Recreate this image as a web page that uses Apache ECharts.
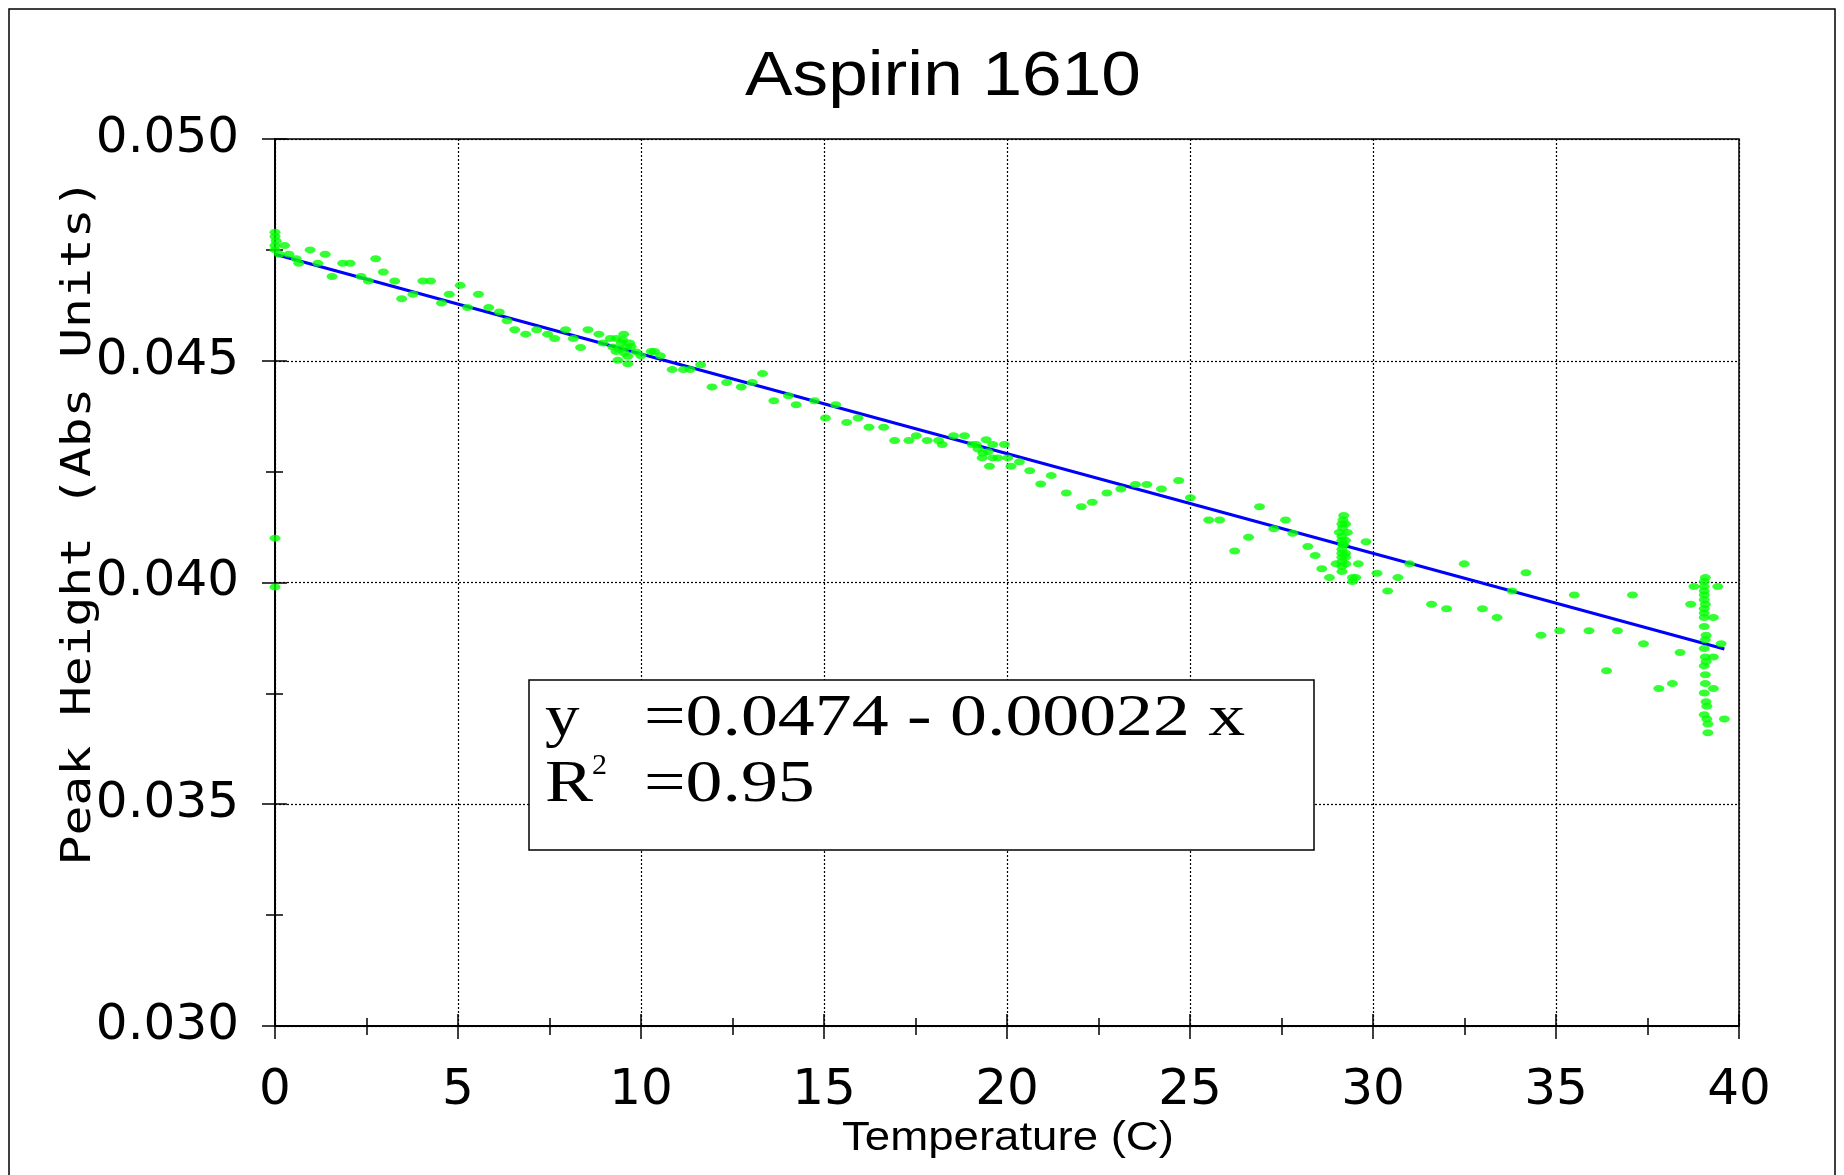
<!DOCTYPE html>
<html>
<head>
<meta charset="utf-8">
<title>Aspirin 1610</title>
<script src="https://cdn.jsdelivr.net/npm/echarts@6.0.0/dist/echarts.min.js"></script>
<style>
    html, body { margin: 0; padding: 0; background: #fff; }
    #container { width: 1844px; height: 1175px; }
</style>
</head>
<body>
<div id="container"></div>
<script>

// temperature (C), peak height (abs units)
var aspirinPoints = [
    [0.00, 0.0479], [0.00, 0.0478], [0.03, 0.0477], [0.00, 0.0476], [0.26, 0.0476],
    [0.00, 0.0475], [0.12, 0.0474], [0.38, 0.0474], [0.00, 0.0410], [0.00, 0.0399],
    [0.58, 0.0473], [0.65, 0.0472], [0.96, 0.0475], [1.17, 0.0472], [1.37, 0.0474],
    [1.56, 0.0469], [1.85, 0.0472], [2.05, 0.0472], [2.35, 0.0469], [2.55, 0.0468],
    [2.75, 0.0473], [2.96, 0.0470], [3.27, 0.0468], [3.46, 0.0464], [3.77, 0.0465],
    [4.04, 0.0468], [4.25, 0.0468], [4.55, 0.0463], [4.76, 0.0465], [5.06, 0.0467],
    [5.26, 0.0462], [5.56, 0.0465], [5.84, 0.0462], [6.13, 0.0461], [6.34, 0.0459],
    [6.55, 0.0457], [6.85, 0.0456], [7.15, 0.0457], [7.45, 0.0456], [7.64, 0.0455],
    [7.94, 0.0457], [8.15, 0.0455], [8.35, 0.0453], [8.55, 0.0457], [8.85, 0.0456],
    [8.96, 0.0454], [9.16, 0.0455], [9.32, 0.0455], [9.53, 0.0456], [9.50, 0.04547],
    [9.46, 0.0454], [9.69, 0.0454], [9.23, 0.04531], [9.41, 0.04526], [9.60, 0.04531],
    [9.73, 0.04532], [9.32, 0.04521], [9.55, 0.04517], [9.87, 0.0452], [9.37, 0.04501],
    [9.64, 0.0451], [9.64, 0.04493], [10.00, 0.04511], [10.28, 0.04521], [10.37, 0.04521],
    [10.53, 0.04511], [10.85, 0.0448], [11.16, 0.0448], [11.34, 0.0448], [11.63, 0.04491],
    [11.94, 0.04441], [12.34, 0.04451], [12.74, 0.04441], [13.04, 0.04451], [13.32, 0.04471],
    [13.63, 0.0441], [14.03, 0.04421], [14.24, 0.04401], [14.74, 0.0441], [15.04, 0.04371],
    [15.32, 0.04401], [15.62, 0.04361], [15.93, 0.04371], [16.23, 0.0435], [16.63, 0.0435],
    [16.93, 0.0432], [17.32, 0.0432], [17.52, 0.04331], [17.82, 0.0432], [18.13, 0.0432],
    [18.23, 0.04311], [18.54, 0.04331], [18.84, 0.04331], [19.05, 0.04311], [19.16, 0.04311],
    [19.43, 0.04322], [19.61, 0.04311], [19.93, 0.04311], [19.21, 0.04301], [19.34, 0.04292],
    [19.48, 0.04295], [19.32, 0.04281], [19.61, 0.04281], [19.75, 0.04281], [20.02, 0.04281],
    [19.52, 0.04262], [20.11, 0.04262], [20.34, 0.04272], [20.62, 0.04252], [20.92, 0.04222],
    [21.21, 0.04241], [21.62, 0.04202], [22.03, 0.04171], [22.33, 0.04181], [22.73, 0.04202],
    [23.11, 0.04211], [23.51, 0.04221], [23.82, 0.04221], [24.22, 0.04211], [24.69, 0.0423],
    [25.01, 0.04191], [25.51, 0.04141], [25.81, 0.04141], [26.22, 0.04071], [26.60, 0.04102],
    [26.90, 0.04171], [27.29, 0.04121], [27.61, 0.04141], [27.81, 0.04111], [28.22, 0.04081],
    [28.42, 0.04061], [28.60, 0.04031], [28.81, 0.04011],
    // 30 C run
    [29.20, 0.04151], [29.18, 0.04141], [29.15, 0.04132], [29.17, 0.04123], [29.30, 0.04113],
    [29.08, 0.04113], [29.15, 0.04104], [29.15, 0.04095], [29.17, 0.04085], [29.15, 0.04075],
    [29.15, 0.04066], [29.15, 0.04057], [29.15, 0.04047], [28.99, 0.04042], [29.26, 0.04042],
    [29.60, 0.04042], [29.15, 0.04036], [29.15, 0.04025], [29.44, 0.04011], [29.53, 0.04011],
    [29.44, 0.04002], [29.25, 0.04132], [29.25, 0.04095], [29.25, 0.04066], [29.25, 0.04057],
    [29.20, 0.04085],
    [29.81, 0.04092], [30.11, 0.04021], [30.40, 0.03981], [30.68, 0.04011], [31.00, 0.04042],
    [31.60, 0.03951], [32.01, 0.03941], [32.49, 0.04042], [32.99, 0.03941], [33.39, 0.03921],
    [33.80, 0.03981], [34.18, 0.04022], [34.59, 0.03881], [35.10, 0.03891], [35.50, 0.03972],
    [35.90, 0.03891], [36.38, 0.03801], [36.68, 0.03891], [37.09, 0.03972], [37.39, 0.03862],
    [37.81, 0.03761], [38.18, 0.03772], [38.39, 0.03842], [38.68, 0.03951], [38.77, 0.03991],
    [39.42, 0.03991], [39.30, 0.03921], [39.51, 0.03862], [39.30, 0.03832], [39.30, 0.03761],
    [39.60, 0.03692],
    // 40 C run
    [39.08, 0.04011], [39.05, 0.04002], [39.05, 0.03991], [39.05, 0.03981], [39.05, 0.03972],
    [39.05, 0.03961], [39.08, 0.03951], [39.05, 0.03941], [39.05, 0.03931], [39.05, 0.03921],
    [39.05, 0.03901], [39.10, 0.03881], [39.08, 0.03871], [39.05, 0.03851], [39.08, 0.03832],
    [39.10, 0.03822], [39.05, 0.03812], [39.08, 0.03792], [39.08, 0.03772], [39.05, 0.03751],
    [39.10, 0.03731], [39.12, 0.03721], [39.05, 0.03702], [39.12, 0.03692], [39.15, 0.03681],
    [39.15, 0.03661]
];

// regression y = 0.0474 - 0.00022 x
var fitLine = [[0, 0.0474], [39.6, 0.0385]];

var titleText = 'Aspirin 1610';
var xName = 'Temperature (C)';
var yName = 'Peak Height (Abs Units)';

var dom = document.getElementById('container');
var myChart = echarts.init(dom);

var gridLine = { color: '#000', width: 1.2, type: [2, 2] };

var option = {
    animation: false,
    backgroundColor: '#fff',
    grid: {
        left: 275,
        top: 139,
        width: 1464,
        height: 887,
        show: true,
        borderColor: '#000',
        borderWidth: 1.5
    },
    xAxis: [
        {
            type: 'value',
            min: 0,
            max: 40,
            interval: 5,
            axisLine: { onZero: false, lineStyle: { color: '#000', width: 2 } },
            axisTick: { length: 13, lineStyle: { color: '#000', width: 1.5 } },
            minorTick: { show: true, splitNumber: 2, length: 9, lineStyle: { color: '#000', width: 1.5 } },
            axisLabel: { margin: 40, fontFamily: 'DejaVu Sans', fontSize: 50, color: '#000' },
            splitLine: { show: true, lineStyle: gridLine }
        },
        {
            // ticks also poke into the plot
            type: 'value',
            position: 'bottom',
            min: 0,
            max: 40,
            interval: 5,
            axisLine: { show: false },
            axisTick: { inside: true, length: 12, lineStyle: { color: '#000', width: 1.5 } },
            minorTick: { show: true, splitNumber: 2, length: 8, lineStyle: { color: '#000', width: 1.5 } },
            axisLabel: { show: false },
            splitLine: { show: false }
        }
    ],
    yAxis: [
        {
            type: 'value',
            min: 0.030,
            max: 0.050,
            interval: 0.005,
            axisLine: { onZero: false, lineStyle: { color: '#000', width: 2 } },
            axisTick: { length: 13, lineStyle: { color: '#000', width: 1.5 } },
            minorTick: { show: true, splitNumber: 2, length: 9, lineStyle: { color: '#000', width: 1.5 } },
            axisLabel: {
                margin: 36,
                fontFamily: 'DejaVu Sans',
                fontSize: 50,
                color: '#000',
                formatter: function (v) { return v.toFixed(3); }
            },
            splitLine: { show: true, lineStyle: gridLine }
        },
        {
            type: 'value',
            position: 'left',
            min: 0.030,
            max: 0.050,
            interval: 0.005,
            axisLine: { show: false },
            axisTick: { inside: true, length: 12, lineStyle: { color: '#000', width: 1.5 } },
            minorTick: { show: true, splitNumber: 2, length: 8, lineStyle: { color: '#000', width: 1.5 } },
            axisLabel: { show: false },
            splitLine: { show: false }
        }
    ],
    graphic: [
        {
            type: 'rect',
            shape: { x: 9, y: 9, width: 1826, height: 1200 },
            style: { fill: 'none', stroke: '#000', lineWidth: 1.5 },
            silent: true
        },
        {
            type: 'text',
            x: 943, y: 78,
            scaleX: 1.13,
            style: {
                text: titleText,
                fontFamily: 'Liberation Sans',
                fontSize: 63,
                fill: '#000',
                align: 'center',
                verticalAlign: 'middle'
            }
        },
        {
            type: 'text',
            x: 80, y: 522,
            rotation: Math.PI / 2,
            scaleX: 1.24,
            style: {
                text: yName,
                fontFamily: 'DejaVu Sans Mono',
                fontSize: 40,
                fill: '#000',
                align: 'center',
                verticalAlign: 'middle'
            }
        },
        {
            type: 'text',
            x: 1008, y: 1139,
            scaleX: 1.14,
            style: {
                text: xName,
                fontFamily: 'Liberation Sans',
                fontSize: 40,
                fill: '#000',
                align: 'center',
                verticalAlign: 'middle'
            }
        },
        {
            type: 'rect',
            shape: { x: 529, y: 680, width: 785, height: 170 },
            style: { fill: '#fff', stroke: '#000', lineWidth: 1.5 },
            z: 100
        },
        {
            type: 'text', x: 545, y: 719, z: 101, scaleX: 1.15,
            style: { text: 'y', fontFamily: 'Liberation Serif', fontSize: 60, fill: '#000', align: 'left', verticalAlign: 'middle' }
        },
        {
            type: 'text', x: 644, y: 719, z: 101, scaleX: 1.23,
            style: { text: '=0.0474 - 0.00022 x', fontFamily: 'Liberation Serif', fontSize: 60, fill: '#000', align: 'left', verticalAlign: 'middle' }
        },
        {
            type: 'text', x: 545, y: 785, z: 101, scaleX: 1.2,
            style: { text: 'R', fontFamily: 'Liberation Serif', fontSize: 60, fill: '#000', align: 'left', verticalAlign: 'middle' }
        },
        {
            type: 'text', x: 592, y: 766, z: 101,
            style: { text: '2', fontFamily: 'Liberation Serif', fontSize: 30, fill: '#000', align: 'left', verticalAlign: 'middle' }
        },
        {
            type: 'text', x: 644, y: 785, z: 101, scaleX: 1.23,
            style: { text: '=0.95', fontFamily: 'Liberation Serif', fontSize: 60, fill: '#000', align: 'left', verticalAlign: 'middle' }
        }
    ],
    series: [
        {
            name: 'fit',
            type: 'line',
            data: fitLine,
            symbol: 'none',
            lineStyle: { color: '#0000ff', width: 3 },
            z: 2
        },
        {
            name: 'Aspirin 1610',
            type: 'scatter',
            data: aspirinPoints,
            symbol: 'circle',
            symbolSize: [11, 7],
            itemStyle: { color: '#00ff00' },
            z: 3
        }
    ]
};

if (option && typeof option === 'object') {
    myChart.setOption(option, true);
}

</script>
</body>
</html>
